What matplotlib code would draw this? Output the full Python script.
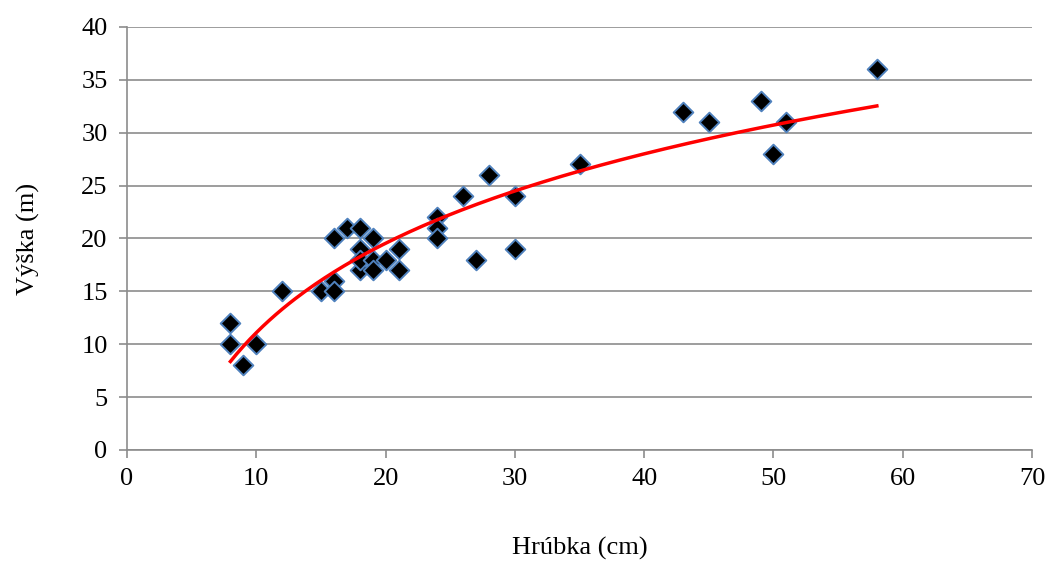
import numpy as np
import matplotlib.pyplot as plt

hrubka = [8, 8, 9, 10, 12, 15, 16, 16, 16, 17, 18, 18, 18, 18, 19, 19, 19, 20, 21, 21,
          24, 24, 24, 26, 27, 28, 30, 30, 35, 43, 45, 49, 50, 51, 58]
vyska = [12, 10, 8, 10, 15, 15, 16, 15, 20, 21, 21, 19, 17, 18, 20, 18, 17, 18, 19, 17,
         22, 21, 20, 24, 18, 26, 24, 19, 27, 32, 31, 33, 28, 31, 36]

plt.rcParams['font.family'] = ['Liberation Serif', 'DejaVu Serif']

fig = plt.figure(figsize=(10.48, 5.61), dpi=100)
ax = fig.add_axes([127 / 1048, 1 - 450 / 561, (1032 - 127) / 1048, (450 - 27) / 561])

ax.scatter(hrubka, vyska, marker='D', s=100, c='black', edgecolors='#4f81bd',
           linewidths=1.4, zorder=3)

# logaritmický trend
a, b = np.polyfit(np.log(hrubka), vyska, 1)
xs = np.linspace(min(hrubka), max(hrubka), 200)
ax.plot(xs, a * np.log(xs) + b, color='red', lw=2.5, zorder=4)

ax.set_xlim(0, 70)
ax.set_ylim(0, 40)
ax.set_xticks(range(0, 71, 10))
ax.set_yticks(range(0, 41, 5))
ax.grid(axis='y', color='#8c8c8c', lw=1.2)
ax.set_axisbelow(True)
for s in ['top', 'right']:
    ax.spines[s].set_visible(False)
for s in ['left', 'bottom']:
    ax.spines[s].set_color('#8c8c8c')
    ax.spines[s].set_linewidth(1.2)
ax.tick_params(colors='#8c8c8c', labelcolor='black', labelsize=19, length=6, width=1.2)
ax.tick_params(axis='x', pad=7)
ax.tick_params(axis='y', pad=8)
ax.set_xlabel('Hrúbka (cm)', fontsize=19, labelpad=34)
ax.set_ylabel('Výška (m)', fontsize=19, labelpad=30)

fig.savefig('out.png', dpi=100)
